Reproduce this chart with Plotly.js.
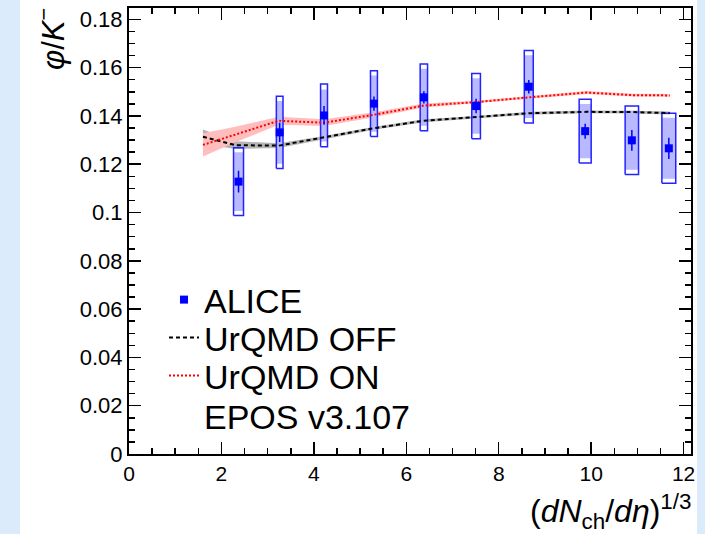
<!DOCTYPE html>
<html><head><meta charset="utf-8">
<script src="https://cdn.plot.ly/plotly-3.0.1.min.js"></script>
<style>html,body{margin:0;padding:0;background:#dcebfb}#chart{width:705px;height:534px}</style>
</head><body><div id="chart"></div>
<script>
// ALICE data points
const aliceX     = [2.37, 3.26, 4.22, 5.30, 6.38, 7.51, 8.65, 9.87, 10.88, 11.68];
const aliceY     = [0.1128, 0.1332, 0.1402, 0.1451, 0.1477, 0.1441, 0.1521, 0.1337, 0.1299, 0.1266];
const aliceStat  = [0.0045, 0.0040, 0.0039, 0.0030, 0.0025, 0.0030, 0.0028, 0.0031, 0.0043, 0.0044];
const aliceSys   = [0.0140, 0.0150, 0.0130, 0.0136, 0.0138, 0.0135, 0.0150, 0.0132, 0.0142, 0.0145];
const aliceSysU  = [0.0122, 0.0130, 0.0108, 0.0116, 0.0118, 0.0115, 0.0130, 0.0112, 0.0122, 0.0126];
const aliceXErr  = [0.108, 0.072, 0.075, 0.075, 0.080, 0.094, 0.097, 0.130, 0.145, 0.150];

// EPOS v3.107 model curves
const modelX     = [1.6, 2.3, 3.24, 4.22, 5.30, 6.38, 7.50, 8.65, 9.90, 10.90, 11.70];
const urqmdOff   = [0.1314, 0.1279, 0.1277, 0.1310, 0.1349, 0.1380, 0.1394, 0.1411, 0.1417, 0.1416, 0.1412];
const urqmdOffE  = [0.0030, 0.0016, 0.0010, 0.0007, 0.0006, 0.0006, 0.0006, 0.0006, 0.0006, 0.0006, 0.0006];
const urqmdOn    = [0.1280, 0.1323, 0.1380, 0.1372, 0.1405, 0.1443, 0.1457, 0.1477, 0.1497, 0.1486, 0.1485];
const urqmdOnE   = [0.0048, 0.0032, 0.0017, 0.0014, 0.0010, 0.0008, 0.0006, 0.0006, 0.0006, 0.0006, 0.0006];

const legendNames = ['ALICE', 'UrQMD OFF', 'UrQMD ON', 'EPOS v3.107'];

function bandPoly(xs, c, e) {
  const x = xs.concat(xs.slice().reverse());
  const up = c.map((v, i) => v + e[i]);
  const lo = c.map((v, i) => v - e[i]);
  return {x: x, y: up.concat(lo.reverse())};
}
function boxes(hw, hh) {
  const x = [], y = [];
  aliceX.forEach((xc, i) => {
    const x0 = xc - hw[i], x1 = xc + hw[i];
    const y0 = aliceY[i] - hh[i], y1 = aliceY[i] + hh[i];
    x.push(x0, x1, x1, x0, x0, null);
    y.push(y0, y0, y1, y1, y0, null);
  });
  return {x: x, y: y};
}

const FONT = 'Liberation Sans, Arial, Helvetica, sans-serif';
const offBand = bandPoly(modelX, urqmdOff, urqmdOffE);
const onBand = bandPoly(modelX, urqmdOn, urqmdOnE);
const fillBoxes = boxes(aliceXErr, aliceSysU);
const lineBoxes = boxes(aliceXErr, aliceSys);

const traces = [
  {x: offBand.x, y: offBand.y, mode: 'lines', fill: 'toself', fillcolor: '#b4b4b4',
   line: {width: 0}, showlegend: false, hoverinfo: 'skip'},
  {x: onBand.x, y: onBand.y, mode: 'lines', fill: 'toself', fillcolor: '#ffbdbd',
   line: {width: 0}, showlegend: false, hoverinfo: 'skip'},
  {x: fillBoxes.x, y: fillBoxes.y, mode: 'lines', fill: 'toself', fillcolor: '#b9b9ff',
   line: {width: 0}, showlegend: false, hoverinfo: 'skip'},
  {x: lineBoxes.x, y: lineBoxes.y, mode: 'lines', line: {color: '#2323ff', width: 1.5},
   showlegend: false, hoverinfo: 'skip'},
  {x: modelX, y: urqmdOff, mode: 'lines', name: legendNames[1], legend: 'legend2',
   line: {color: '#000000', width: 2, dash: '4px,3px'}},
  {x: modelX, y: urqmdOn, mode: 'lines', name: legendNames[2], legend: 'legend3',
   line: {color: '#ff0000', width: 2, dash: '2px,2px'}},
  {x: aliceX, y: aliceY, mode: 'markers', name: legendNames[0], legend: 'legend',
   marker: {symbol: 'square', size: 8, color: '#0000ff'},
   error_y: {type: 'data', array: aliceStat, color: '#0000ff', thickness: 1.5, width: 0}},
  {x: [null], y: [null], mode: 'lines', name: legendNames[3], legend: 'legend4',
   line: {color: 'rgba(0,0,0,0)', width: 0}}
];

const L = 129, R = 691, T = 8, B = 454;
const pw = R - L, ph = B - T;
const px = v => (v - L) / pw;
const py = v => (B - v) / ph;
const legBase = {x: px(164), xanchor: 'left', yanchor: 'middle', bgcolor: 'rgba(0,0,0,0)',
  borderwidth: 0, font: {family: FONT, size: 34, color: '#000'}, itemwidth: 30};

const axisCommon = {
  showgrid: false, zeroline: false, showline: true, linecolor: '#000', linewidth: 2,
  mirror: 'ticks', ticks: 'inside', ticklen: 12, tickwidth: 1.5, tickcolor: '#000'
};

const layout = {
  width: 705, height: 534,
  margin: {l: L, r: 705 - R, t: T, b: 534 - B, pad: 0},
  paper_bgcolor: '#dcebfb', plot_bgcolor: '#ffffff',
  font: {family: FONT, color: '#000'},
  xaxis: Object.assign({}, axisCommon, {range: [0, 12.16], dtick: 2, tick0: 0,
    tickfont: {family: FONT, size: 21, color: '#000'},
    minor: {dtick: 0.5, ticks: 'inside', ticklen: 6, tickwidth: 1.5, tickcolor: '#000'}}),
  yaxis: Object.assign({}, axisCommon, {range: [0, 0.1847], dtick: 0.02, tick0: 0,
    tickfont: {family: FONT, size: 22, color: '#000'},
    minor: {dtick: 0.005, ticks: 'inside', ticklen: 6, tickwidth: 1.5, tickcolor: '#000'}}),
  showlegend: true,
  legend: Object.assign({}, legBase, {y: py(300)}),
  legend2: Object.assign({}, legBase, {y: py(338)}),
  legend3: Object.assign({}, legBase, {y: py(376)}),
  legend4: Object.assign({}, legBase, {y: py(416)}),
  shapes: [
    {type: 'rect', xref: 'paper', yref: 'paper', x0: px(20), x1: px(697), y0: py(540), y1: py(-5),
     fillcolor: '#ffffff', line: {width: 0}, layer: 'below'}
  ],
  annotations: [
    {xref: 'paper', yref: 'paper', x: px(51), y: py(6), xanchor: 'center', yanchor: 'top',
     textangle: -90, showarrow: false, text: '<i>φ</i>/<i>K</i><sup>−</sup>',
     font: {family: FONT, size: 31, color: '#000'}},
    {xref: 'paper', yref: 'paper', x: px(693), y: py(512), xanchor: 'right', yanchor: 'middle',
     showarrow: false, text: '(<i>dN</i><sub>ch</sub>/<i>dη</i>)<sup>1/3</sup>',
     font: {family: FONT, size: 32, color: '#000'}}
  ]
};

Plotly.newPlot('chart', traces, layout, {displayModeBar: false, staticPlot: true});
</script>
</body></html>
